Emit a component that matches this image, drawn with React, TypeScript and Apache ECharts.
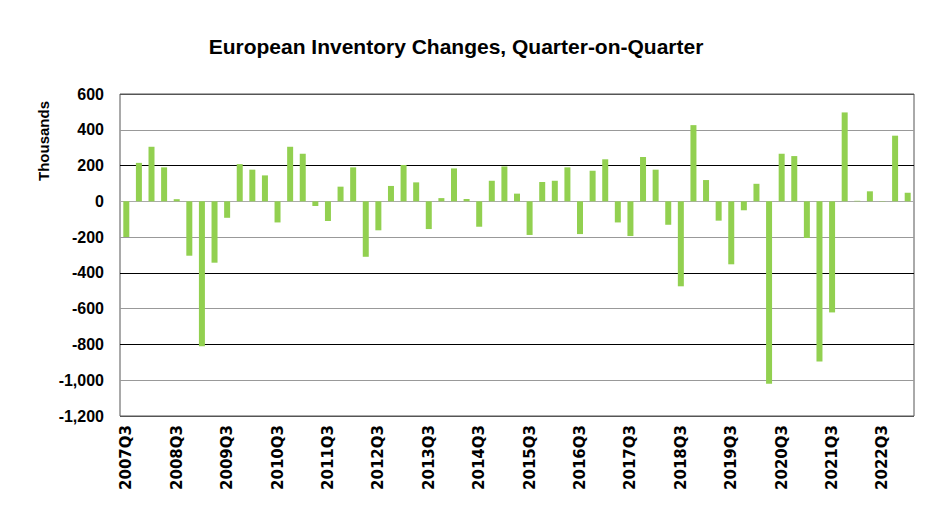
import React, { useEffect, useRef } from "react";
import * as echarts from "echarts";

const quarters: string[] = [
  "2007Q3", "2007Q4", "2008Q1", "2008Q2", "2008Q3", "2008Q4", "2009Q1", "2009Q2",
  "2009Q3", "2009Q4", "2010Q1", "2010Q2", "2010Q3", "2010Q4", "2011Q1", "2011Q2",
  "2011Q3", "2011Q4", "2012Q1", "2012Q2", "2012Q3", "2012Q4", "2013Q1", "2013Q2",
  "2013Q3", "2013Q4", "2014Q1", "2014Q2", "2014Q3", "2014Q4", "2015Q1", "2015Q2",
  "2015Q3", "2015Q4", "2016Q1", "2016Q2", "2016Q3", "2016Q4", "2017Q1", "2017Q2",
  "2017Q3", "2017Q4", "2018Q1", "2018Q2", "2018Q3", "2018Q4", "2019Q1", "2019Q2",
  "2019Q3", "2019Q4", "2020Q1", "2020Q2", "2020Q3", "2020Q4", "2021Q1", "2021Q2",
  "2021Q3", "2021Q4", "2022Q1", "2022Q2", "2022Q3", "2022Q4", "2023Q1",
];

const inventoryChange: number[] = [
  -200, 215, 305, 190, 12, -304, -810, -343,
  -92, 208, 177, 145, -118, 305, 266, -26,
  -110, 82, 190, -310, -162, 86, 203, 106,
  -155, 18, 184, 13, -142, 115, 195, 43,
  -188, 108, 115, 190, -183, 171, 235, -118,
  -194, 248, 177, -131, -475, 426, 119, -108,
  -352, -50, 98, -1020, 266, 253, -205, -896,
  -621, 497, 3, 56, -2, 367, 48,
];

const titleText = "European Inventory Changes, Quarter-on-Quarter";
const yAxisTitle = "Thousands";

export default function App() {
  const ref = useRef<HTMLDivElement>(null);
  useEffect(() => {
    if (!ref.current) return;
    const chart = echarts.init(ref.current, null, { renderer: "svg" });
    chart.setOption({
      animation: false,
      backgroundColor: "#ffffff",
      title: {
        text: titleText,
        left: 451,
        top: 31,
        textAlign: "center",
        textStyle: {
          fontFamily: "Liberation Sans",
          fontWeight: "bold",
          fontSize: 21,
          color: "#000",
        },
      },
      graphic: [
        {
          type: "text",
          x: 43,
          y: 141,
          rotation: Math.PI / 2,
          style: {
            text: yAxisTitle,
            fontFamily: "Liberation Sans",
            fontWeight: "bold",
            fontSize: 15,
            fill: "#000",
            align: "center",
            verticalAlign: "middle",
          },
        },
      ],
      grid: {
        left: 120,
        right: 37,
        top: 94,
        bottom: 113,
        show: true,
        borderColor: "#555",
        borderWidth: 1,
      },
      xAxis: {
        type: "category",
        data: quarters,
        axisLine: { show: false, onZero: false },
        axisTick: { show: false },
        axisLabel: {
          interval: 3,
          rotate: 90,
          margin: 9,
          fontFamily: "DejaVu Sans",
          fontWeight: "bold",
          fontSize: 15,
          color: "#000",
        },
      },
      yAxis: {
        type: "value",
        min: -1200,
        max: 600,
        interval: 200,
        axisLine: { show: false },
        axisTick: { show: false },
        splitLine: {
          lineStyle: {
            color: ["#555", "#999", "#000", "#999", "#000", "#999", "#aaa", "#000", "#999", "#555"],
            width: 1,
          },
        },
        axisLabel: {
          margin: 16,
          fontFamily: "Liberation Sans",
          fontWeight: "bold",
          fontSize: 16,
          color: "#000",
          formatter: (v: number) => v.toLocaleString("en-US"),
        },
      },
      series: [
        {
          type: "bar",
          data: inventoryChange,
          barWidth: 6,
          itemStyle: { color: "#92d050" },
        },
      ],
    });
    return () => chart.dispose();
  }, []);
  return (
    <div
      ref={ref}
      style={{ position: "fixed", left: 0, top: 0, width: 951, height: 529 }}
    />
  );
}
